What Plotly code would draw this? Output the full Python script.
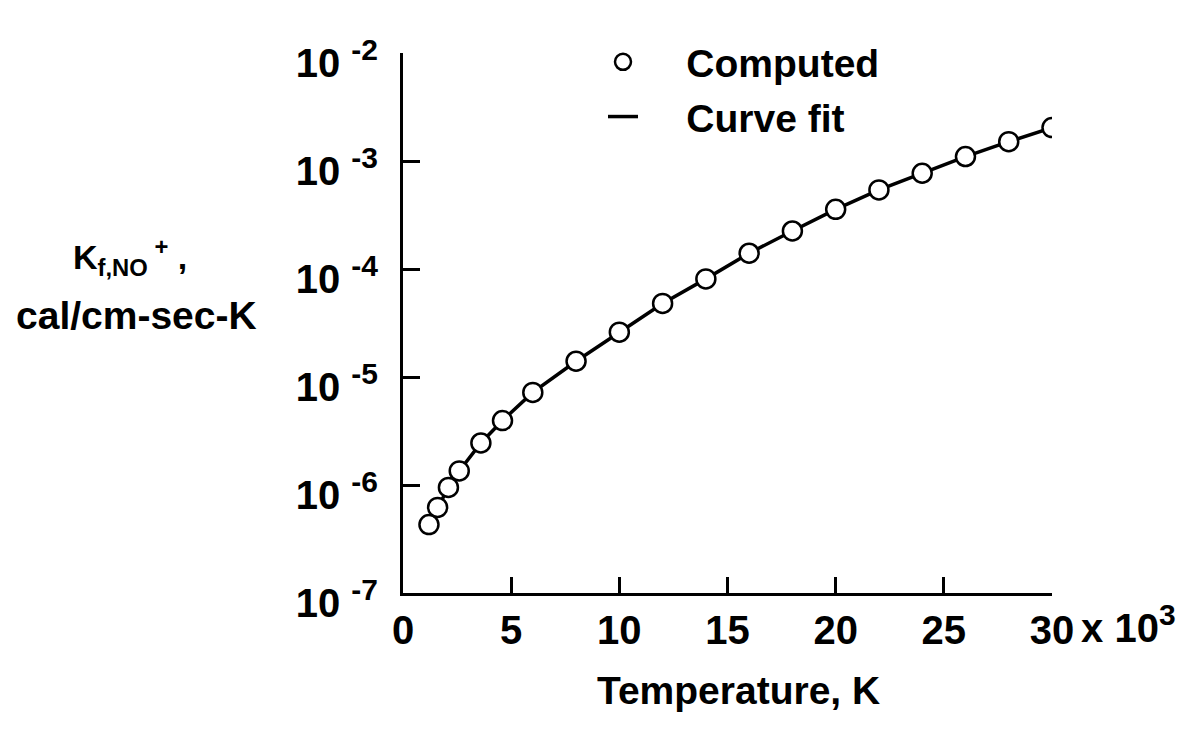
import plotly.graph_objects as go

# Data (temperature in thousands of K)
temp_k = [1.2, 1.6, 2.1, 2.6, 3.6, 4.6, 6, 8, 10, 12, 14, 16, 18, 20, 22, 24, 26, 28, 30]
kf_computed = [4.3e-7, 6.2e-7, 9.5e-7, 1.35e-6, 2.45e-6, 3.95e-6, 7.2e-6, 1.4e-5,
               2.6e-5, 4.8e-5, 8.1e-5, 1.4e-4, 2.25e-4, 3.57e-4, 5.4e-4, 7.7e-4,
               1.1e-3, 1.51e-3, 2.04e-3]
kf_fit = [4.3e-7, 6.2e-7, 9.5e-7, 1.35e-6, 2.45e-6, 3.95e-6, 7.2e-6, 1.4e-5,
          2.6e-5, 4.8e-5, 8.1e-5, 1.4e-4, 2.25e-4, 3.57e-4, 5.4e-4, 7.7e-4,
          1.1e-3, 1.51e-3, 2.04e-3]

x_tick_vals = [0, 5, 10, 15, 20, 25, 30]
x_tick_text = ["0", "5", "10", "15", "20", "25", "30"]
y_tick_vals = [1e-7, 1e-6, 1e-5, 1e-4, 1e-3, 1e-2]
y_exponents = ["-7", "-6", "-5", "-4", "-3", "-2"]
y_tick_text = ['10 <sup><span style="font-size:30px">%s</span></sup>' % e for e in y_exponents]

FONT = "Liberation Sans, Arial, Helvetica, sans-serif"
NB = "\u00a0"
PL, PR, PT, PB = 403, 1052, 53, 593
PW, PH = PR - PL, PB - PT

fig = go.Figure()
fig.add_trace(go.Scatter(
    x=temp_k, y=kf_fit, mode="lines", name=NB * 4 + "Curve fit",
    line=dict(color="black", width=3.5), legendrank=2, legendgroup="b",
))
fig.add_trace(go.Scatter(
    x=temp_k, y=kf_computed, mode="markers", name=NB * 4 + "Computed",
    marker=dict(symbol="circle", size=19, color="white",
                line=dict(color="black", width=2.5)),
    legendrank=1, legendgroup="a",
))

fig.update_layout(
    width=1190, height=730,
    margin=dict(l=PL, r=1190 - PR, t=PT, b=730 - PB),
    paper_bgcolor="white", plot_bgcolor="white",
    font=dict(family=FONT, size=38, color="black", weight="bold"),
    showlegend=True,
    legend=dict(x=(603 - PL) / PW, y=1 + (PT - 30) / PH, xanchor="left", yanchor="top",
                bgcolor="rgba(0,0,0,0)", font=dict(size=39, family=FONT, weight="bold"),
                traceorder="grouped", tracegroupgap=1),
    xaxis=dict(range=[0, 30], tickvals=x_tick_vals, ticktext=x_tick_text,
               ticks="inside", ticklen=16, tickwidth=2.5, tickcolor="black",
               showline=True, linecolor="black", linewidth=3,
               showgrid=False, zeroline=False, ticklabelstandoff=0,
               tickfont=dict(size=40, family=FONT, weight="bold")),
    yaxis=dict(type="log", range=[-7, -2], tickvals=y_tick_vals, ticktext=y_tick_text,
               ticks="inside", ticklen=17, tickwidth=2.5, tickcolor="black",
               showline=True, linecolor="black", linewidth=3,
               showgrid=False, zeroline=False, ticklabelstandoff=14, ticklabelshift=10,
               tickfont=dict(size=40, family=FONT, weight="bold")),
)

fig.add_annotation(text=' x 10<sup><span style="font-size:30px">3</span></sup>',
                   xref="paper", yref="paper",
                   x=(1068 - PL) / PW, y=-(624 - PB) / PH, xanchor="left", yanchor="middle",
                   showarrow=False, font=dict(size=40, family=FONT, weight="bold"))
fig.add_annotation(text="Temperature, K", xref="paper", yref="paper",
                   x=(738 - PL) / PW, y=-(690 - PB) / PH, xanchor="center", yanchor="middle",
                   showarrow=False, font=dict(size=39, family=FONT, weight="bold"))
fig.add_annotation(text="K<sub>f,NO</sub><sup> +</sup> ,", xref="paper", yref="paper",
                   x=-(PL - 130) / PW, y=(PB - 257) / PH, xanchor="center", yanchor="middle",
                   showarrow=False, font=dict(size=34, family=FONT, weight="bold"))
fig.add_annotation(text="cal/cm-sec-K", xref="paper", yref="paper",
                   x=-(PL - 136) / PW, y=(PB - 315) / PH, xanchor="center", yanchor="middle",
                   showarrow=False, font=dict(size=39, family=FONT, weight="bold"))

fig.write_html("out.html")
